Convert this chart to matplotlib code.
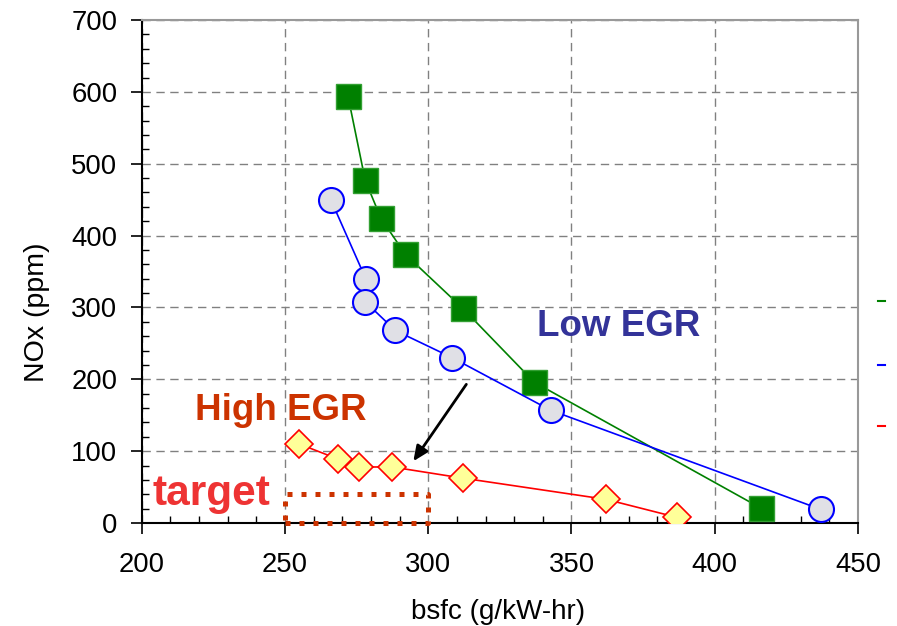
import matplotlib.pyplot as plt
from matplotlib.ticker import MultipleLocator

plt.rcParams['font.family'] = ['Liberation Sans', 'DejaVu Sans']

# Low EGR (green squares)
green_x = [272, 278, 283.5, 292, 312, 337, 416]
green_y = [594, 477, 424, 374, 299, 196, 21]

# Low EGR (blue circles)
blue_x = [266, 278.3, 278, 288.5, 308.4, 342.7, 437]
blue_y = [450, 339, 308, 268, 230, 157, 19]

# High EGR (red diamonds)
red_x = [255, 268.5, 276, 287.4, 312, 362, 386.7]
red_y = [110, 89, 78, 78, 62.5, 33, 8]

# target box (bsfc range, NOx range)
target_x = [250, 300]
target_y = [0, 40]

fig = plt.figure(figsize=(8.97, 6.26), dpi=100)
ax = fig.add_axes([0.158, 0.1645, 0.7985, 0.8035])

ax.plot(green_x, green_y, color='#008000', lw=1.2, marker='s', ms=18,
        mfc='#008000', mec='#33a033', mew=1, zorder=3)
ax.plot(blue_x, blue_y, color='#0000ff', lw=1.2, marker='o', ms=18,
        mfc='#e0e0e6', mec='#0000ff', mew=1.5, zorder=4)
ax.plot(red_x, red_y, color='#ff0000', lw=1.2, marker='D', ms=14.5,
        mfc='#ffff99', mec='#ff0000', mew=1.2, zorder=5)

# dotted target rectangle
ax.plot([target_x[0], target_x[1], target_x[1], target_x[0], target_x[0]],
        [target_y[0], target_y[0], target_y[1], target_y[1], target_y[0]],
        color='#cc3300', lw=3.6, linestyle=(0, (1, 1.8)),
        dash_capstyle='butt', clip_on=False, zorder=6)

ax.text(338, 260, 'Low EGR', color='#333399', fontsize=26.5, fontweight='bold',
        va='baseline', ha='left')
ax.text(218.5, 143, 'High EGR', color='#cc3300', fontsize=26.5, fontweight='bold',
        va='baseline', ha='left')
ax.text(203.8, 25, 'target', color='#ee3333', fontsize=30.5, fontweight='bold',
        va='baseline', ha='left')

ax.annotate('', xy=(294.8, 86), xytext=(313.3, 193),
            arrowprops=dict(arrowstyle='-|>,head_length=0.9,head_width=0.4',
                            color='black', lw=2, shrinkA=0, shrinkB=0))

# remnants of the clipped legend
for yy, c in zip([0.441, 0.315, 0.193], ['#008000', '#0000ff', '#ff0000']):
    ax.plot([1.028, 1.038], [yy, yy], color=c, lw=1.5,
            transform=ax.transAxes, clip_on=False)

ax.set_xlim(200, 450)
ax.set_ylim(0, 700)
ax.xaxis.set_major_locator(MultipleLocator(50))
ax.xaxis.set_minor_locator(MultipleLocator(10))
ax.yaxis.set_major_locator(MultipleLocator(100))
ax.yaxis.set_minor_locator(MultipleLocator(20))
ax.tick_params(which='major', direction='out', length=8, width=1.2,
               labelsize=19.8)
ax.tick_params(axis='x', which='major', pad=13)
ax.tick_params(axis='y', which='major', pad=9.5)
ax.tick_params(which='minor', direction='in', length=5, width=1)
ax.grid(True, which='major', color='#808080', linestyle=(0, (6, 4)), lw=1)

for s in ['left', 'bottom']:
    ax.spines[s].set_color('black')
    ax.spines[s].set_linewidth(1.5)
for s in ['top', 'right']:
    ax.spines[s].set_color('#999999')
    ax.spines[s].set_linewidth(1.5)

ax.set_xlabel('bsfc (g/kW-hr)', fontsize=20)
ax.set_ylabel('NOx (ppm)', fontsize=20.5)
ax.xaxis.set_label_coords(0.497, -0.152)
ax.yaxis.set_label_coords(-0.1285, 0.4187)

fig.savefig('out.png', dpi=100)
